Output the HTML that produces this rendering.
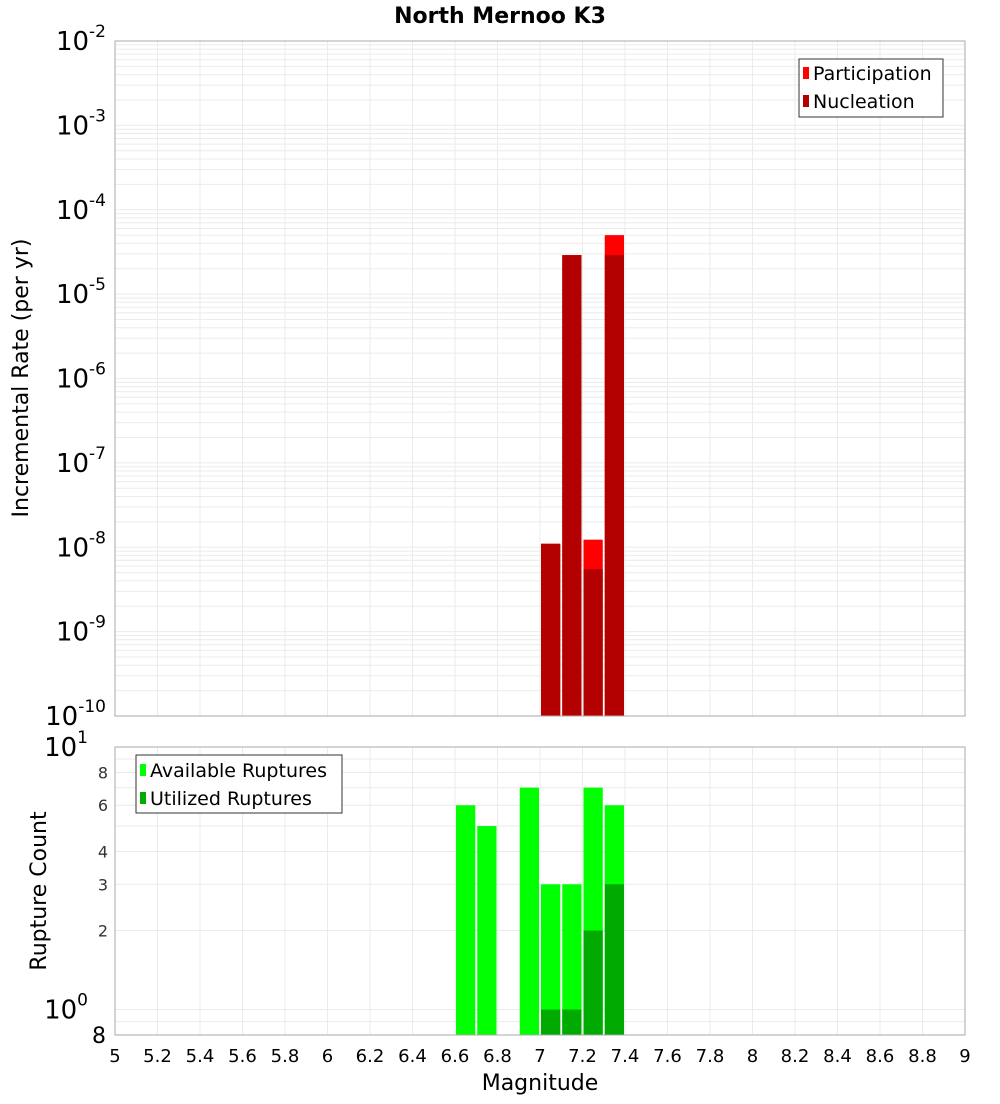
<!DOCTYPE html>
<html><head><meta charset="utf-8"><style>
body{margin:0;background:#fff;font-family:"DejaVu Sans","Liberation Sans",sans-serif;}
svg text{font-family:"DejaVu Sans","Liberation Sans",sans-serif;}
</style></head><body>
<svg id="c" width="1000" height="1100" viewBox="0 0 1000 1100" xmlns="http://www.w3.org/2000/svg">
<text x="500" y="23" text-anchor="middle" font-size="22" font-weight="bold">North Mernoo K3</text>
<g id="top"></g>
<g id="bot"></g>
<text transform="translate(28,378) rotate(-90)" text-anchor="middle" font-size="22">Incremental Rate (per yr)</text>
<text transform="translate(46,891) rotate(-90)" text-anchor="middle" font-size="22">Rupture Count</text>
<text x="540" y="1090" text-anchor="middle" font-size="22">Magnitude</text>
<g>
<rect x="799" y="59" width="144" height="58" fill="#fff" stroke="#333" stroke-width="1"/>
<rect x="803" y="67" width="6" height="12" fill="#ff0000"/>
<text x="813" y="80" font-size="19">Participation</text>
<rect x="803" y="95" width="6" height="12" fill="#b30000"/>
<text x="813" y="108" font-size="19">Nucleation</text>
</g>
<g>
<rect x="136" y="755" width="206" height="58" fill="#fff" stroke="#333" stroke-width="1"/>
<rect x="140" y="764" width="6" height="12" fill="#00ff00"/>
<text x="150" y="777" font-size="19">Available Ruptures</text>
<rect x="140" y="792" width="6" height="12" fill="#00aa00"/>
<text x="150" y="805" font-size="19">Utilized Ruptures</text>
</g>
</svg>
<script>
const rateMags=[7.05,7.15,7.25,7.35];
const participation=[1.1e-8,2.9e-5,1.23e-8,5.0e-5];
const nucleation=[1.1e-8,2.9e-5,5.5e-9,2.9e-5];
const countMags=[6.65,6.75,6.95,7.05,7.15,7.25,7.35];
const available=[6,5,7,3,3,7,6];
const utilized=[0,0,0,1,1,2,3];
const xTicks=["5","5.2","5.4","5.6","5.8","6","6.2","6.4","6.6","6.8","7","7.2","7.4","7.6","7.8","8","8.2","8.4","8.6","8.8","9"];
const rateExps=[-2,-3,-4,-5,-6,-7,-8,-9,-10];
const countTicks=[8,6,4,3,2];

const NS="http://www.w3.org/2000/svg";
const L=115,R=965;
const X=m=>L+(m-5)/4*(R-L);
const T0=41,T1=716,B0=747,B1=1035;
const Yt=v=>T0+(-2-Math.log10(v))*(T1-T0)/8;
const bMin=Math.log10(0.8),bMax=1;
const Yb=v=>B0+(bMax-Math.log10(v))*(B1-B0)/(bMax-bMin);
function mk(p,tag,a){const e=document.createElementNS(NS,tag);for(const k in a)e.setAttribute(k,a[k]);p.appendChild(e);return e;}
const gTop=document.getElementById('top'),gBot=document.getElementById('bot');
for(let i=0;i<=20;i++){const x=X(5+i*0.2);
 const g1=mk(gTop,'line',{x1:x,x2:x,y1:T0,y2:T1,stroke:'#ebebeb'});
 
 
 const g2=mk(gBot,'line',{x1:x,x2:x,y1:B0,y2:B1,stroke:'#ebebeb'});
 
 }
for(let e=-10;e<-2;e++)for(let k=1;k<10;k++){const y=Yt(k*Math.pow(10,e));
 const g=mk(gTop,'line',{x1:L,x2:R,y1:y,y2:y,stroke:'#ebebeb'});
 
 }
[0.8,0.9,1,2,3,4,5,6,7,8,9,10].forEach(v=>{const y=Yb(v);
 const g=mk(gBot,'line',{x1:L,x2:R,y1:y,y2:y,stroke:'#ebebeb'});
 
 });
const bw=(X(5.1)-X(5))-2;
rateMags.forEach((m,i)=>{const x=X(m-0.05)+1;
 const p=mk(gTop,'rect',{x:x,y:Yt(participation[i]),width:bw,height:T1-Yt(participation[i]),fill:'#ff0000'});
 
 
 const n=mk(gTop,'rect',{x:x,y:Yt(nucleation[i]),width:bw,height:T1-Yt(nucleation[i]),fill:'#b30000'});
 
 });
countMags.forEach((m,i)=>{const x=X(m-0.05)+1;
 const a=mk(gBot,'rect',{x:x,y:Yb(available[i]),width:bw,height:B1-Yb(available[i]),fill:'#00ff00'});
 
 
 if(utilized[i]>0){const u=mk(gBot,'rect',{x:x,y:Yb(utilized[i]),width:bw,height:B1-Yb(utilized[i]),fill:'#00aa00'});
 
 }});
const f1=mk(gTop,'rect',{x:L,y:T0,width:R-L,height:T1-T0,fill:'none',stroke:'#aaa'});


const f2=mk(gBot,'rect',{x:L,y:B0,width:R-L,height:B1-B0,fill:'none',stroke:'#aaa'});


rateExps.forEach(e=>{const y=Yt(Math.pow(10,e));
 const t=mk(gTop,'text',{x:106,y:y+9,'text-anchor':'end','font-size':26});
 
 
 t.textContent='10';
 const s=mk(t,'tspan',{dy:-13,'font-size':17});s.textContent=String(e);});
[[10,'1'],[1,'0']].forEach(([v,e])=>{const y=Yb(v);
 const t=mk(gBot,'text',{x:88,y:y+9,'text-anchor':'end','font-size':26});
 
 
 t.textContent='10';
 const s=mk(t,'tspan',{dy:-13,'font-size':17});s.textContent=e;});
countTicks.forEach(v=>{const y=Yb(v);
 const t=mk(gBot,'text',{x:108,y:y+6,'text-anchor':'end','font-size':16,fill:'#333'});
 
 
 t.textContent=String(v);});
const t8=mk(gBot,'text',{x:106,y:B1+8,'text-anchor':'end','font-size':22});


t8.textContent='8';
xTicks.forEach(s=>{const t=mk(gBot,'text',{x:X(parseFloat(s)),y:1062,'text-anchor':'middle','font-size':18});
 
 
 t.textContent=s;});
</script>
</body></html>
